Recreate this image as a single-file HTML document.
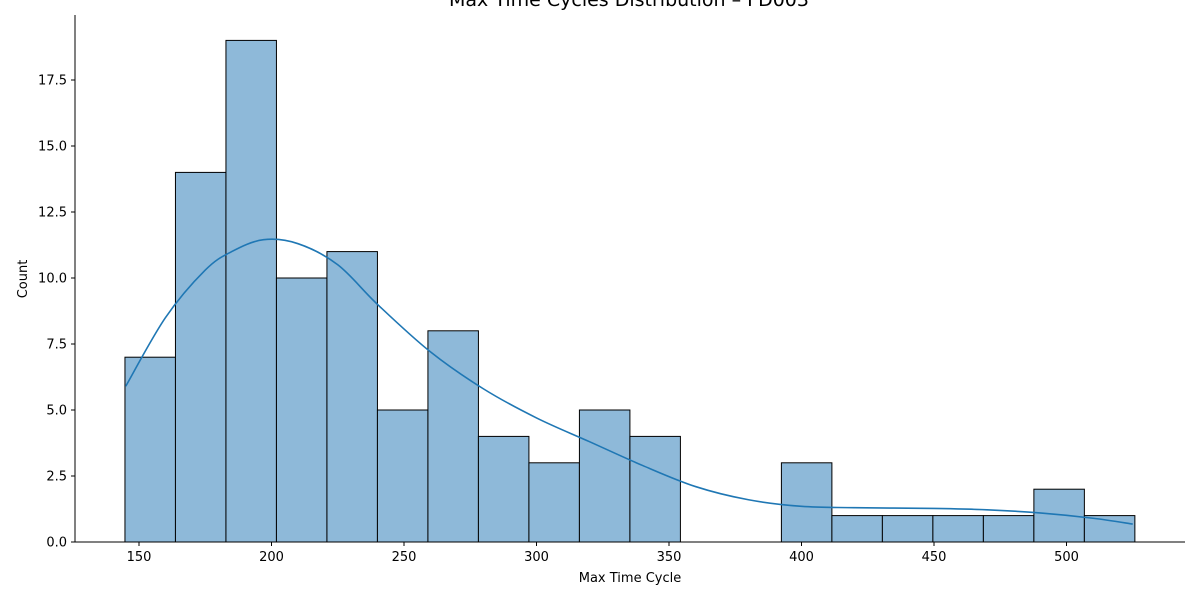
<!DOCTYPE html>
<html><head><meta charset="utf-8"><style>
body{margin:0;background:#fff}
svg text{font-family:"DejaVu Sans","Liberation Sans",sans-serif;fill:#000}
</style></head><body>
<svg id="chart" width="1200" height="600">
<text x="629" y="6" font-size="19" text-anchor="middle">Max Time Cycles Distribution – FD003</text>
<g id="bars"></g>
<g id="kde"></g>
<g id="axes"></g>
<text x="630" y="582" font-size="13" text-anchor="middle">Max Time Cycle</text>
<text transform="translate(27,279) rotate(-90)" font-size="13" text-anchor="middle">Count</text>
</svg>
<script>
const binStart = 144.7;
const binEnd = 525.8;
const counts = [7,14,19,10,11,5,8,4,3,5,4,0,0,3,1,1,1,1,2,1];
const kdeX = [145,160,175,185,197,210,225,240,260,280,300,320,340,360,380,400,420,450,470,490,510,525];
const kdeY = [5.9,8.5,10.3,11.0,11.45,11.3,10.5,9.0,7.2,5.8,4.7,3.8,2.9,2.1,1.6,1.35,1.3,1.27,1.22,1.1,0.9,0.68];
const xTicks = [150,200,250,300,350,400,450,500];
const yTicks = [0,2.5,5,7.5,10,12.5,15,17.5];
const yTickLabels = ["0.0","2.5","5.0","7.5","10.0","12.5","15.0","17.5"];

const NS="http://www.w3.org/2000/svg";
const X=v=>139+(v-150)*2.65;
const Y=v=>542-v*26.4;
function mk(t,a,p){const e=document.createElementNS(NS,t);for(const k in a)e.setAttribute(k,a[k]);p.appendChild(e);return e;}
const bars=document.getElementById('bars');
const w=(binEnd-binStart)/counts.length;
counts.forEach((c,i)=>{
  if(c<=0)return;
  const x0=X(binStart+i*w),x1=X(binStart+(i+1)*w);
  const r=mk('rect',{x:x0,y:Y(c),width:x1-x0,height:Y(0)-Y(c),fill:'#8eb9d9',stroke:'#000','stroke-width':1},bars);
  
  
});
const pts=kdeX.map((x,i)=>[X(x),Y(kdeY[i])]);
let d='M'+pts[0][0]+','+pts[0][1];
for(let i=0;i<pts.length-1;i++){
  const p0=pts[Math.max(0,i-1)],p1=pts[i],p2=pts[i+1],p3=pts[Math.min(pts.length-1,i+2)];
  const c1=[p1[0]+(p2[0]-p0[0])/6,p1[1]+(p2[1]-p0[1])/6];
  const c2=[p2[0]-(p3[0]-p1[0])/6,p2[1]-(p3[1]-p1[1])/6];
  d+='C'+c1+' '+c2+' '+p2;
}
const kde=document.getElementById('kde');
const p=mk('path',{d:d,fill:'none',stroke:'#1f77b4','stroke-width':1.6},kde);


const ax=document.getElementById('axes');
mk('line',{x1:75,y1:15,x2:75,y2:542,stroke:'#000','stroke-width':1},ax);
mk('line',{x1:75,y1:542,x2:1185,y2:542,stroke:'#000','stroke-width':1},ax);
xTicks.forEach(t=>{
  mk('line',{x1:X(t),y1:542,x2:X(t),y2:546,stroke:'#000'},ax);
  const e=mk('text',{x:X(t),y:561,'font-size':13,'text-anchor':'middle'},ax);e.textContent=t;
  
  
});
yTicks.forEach((t,i)=>{
  mk('line',{x1:71,y1:Y(t),x2:75,y2:Y(t),stroke:'#000'},ax);
  const e=mk('text',{x:67,y:Y(t)+4.5,'font-size':13,'text-anchor':'end'},ax);e.textContent=yTickLabels[i];
  
  
});
</script>
</body></html>
